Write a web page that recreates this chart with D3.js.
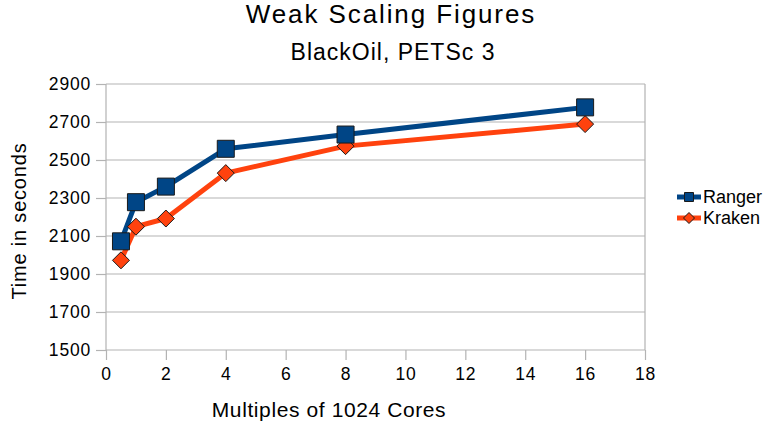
<!DOCTYPE html>
<html>
<head>
<meta charset="utf-8">
<script src="https://cdn.jsdelivr.net/npm/d3@7"></script>
<style>
  body { margin: 0; background: #fff; }
  text { font-family: "Liberation Sans", Arial, sans-serif; fill: #000; }
</style>
</head>
<body>
<div id="chart"></div>
<script>
// values
var cores = [0.5, 1, 2, 4, 8, 16];
var ranger = [2072, 2278, 2360, 2559, 2634, 2777];
var kraken = [1972, 2149, 2192, 2431, 2573, 2689];
var xTicks = [0, 2, 4, 6, 8, 10, 12, 14, 16, 18];
var yTicks = [1500, 1700, 1900, 2100, 2300, 2500, 2700, 2900];

var series = [
  {name: "Ranger", values: ranger, color: "#004586", symbol: "square"},
  {name: "Kraken", values: kraken, color: "#ff420e", symbol: "diamond"}
];

var W = 769, H = 427;
var margin = {top: 84, right: 124, bottom: 77, left: 106},
    width = W - margin.left - margin.right,
    height = H - margin.top - margin.bottom;

var x = d3.scaleLinear().domain([0, 18]).range([0, width]);
var y = d3.scaleLinear().domain([1500, 2900]).range([height, 0]);

var svg = d3.select("#chart").append("svg")
    .attr("width", W)
    .attr("height", H);

svg.append("text")
    .attr("x", 391).attr("y", 23)
    .attr("text-anchor", "middle")
    .style("font-size", "26px")
    .style("letter-spacing", "1.9px")
    .text("Weak Scaling Figures");

svg.append("text")
    .attr("x", 393).attr("y", 60)
    .attr("text-anchor", "middle")
    .style("font-size", "23px")
    .style("letter-spacing", "1px")
    .text("BlackOil, PETSc 3");

var g = svg.append("g")
    .attr("transform", "translate(" + margin.left + "," + margin.top + ")");

// grid
g.selectAll(".grid").data(yTicks).enter().append("line")
    .attr("x1", 0).attr("x2", width)
    .attr("y1", function(d) { return y(d); })
    .attr("y2", function(d) { return y(d); })
    .attr("stroke", "#b3b3b3").attr("stroke-width", 1.2);

g.append("line").attr("x1", 0).attr("x2", 0).attr("y1", 0).attr("y2", height)
    .attr("stroke", "#b3b3b3").attr("stroke-width", 1.2);
g.append("line").attr("x1", width).attr("x2", width).attr("y1", 0).attr("y2", height)
    .attr("stroke", "#b3b3b3").attr("stroke-width", 1.2);

var xAxis = d3.axisBottom(x).tickValues(xTicks).tickSize(10).tickPadding(8).tickFormat(d3.format("d"));
var yAxis = d3.axisLeft(y).tickValues(yTicks).tickSize(10).tickPadding(5).tickFormat(d3.format("d"));

var gx = g.append("g").attr("transform", "translate(0," + height + ")").call(xAxis);
var gy = g.append("g").call(yAxis);
[gx, gy].forEach(function(a) {
  a.select(".domain").remove();
  a.selectAll(".tick line").attr("stroke", "#b3b3b3").attr("stroke-width", 1.2);
  a.selectAll(".tick text").style("font-size", "17.5px").style("letter-spacing", "0.8px").attr("fill", "#000");
});

svg.append("text")
    .attr("transform", "translate(26," + 221 + ") rotate(-90)")
    .attr("text-anchor", "middle")
    .style("font-size", "20px")
    .style("letter-spacing", "0.8px")
    .text("Time in seconds");

svg.append("text")
    .attr("x", 329).attr("y", 417)
    .attr("text-anchor", "middle")
    .style("font-size", "21px")
    .style("letter-spacing", "0.6px")
    .text("Multiples of 1024 Cores");

var line = d3.line()
    .x(function(d, i) { return x(cores[i]); })
    .y(function(d) { return y(d); });

function symbolPath(s, r) {
  // r = half the marker's width
  if (s === "square") return "M" + -r + "," + -r + "H" + r + "V" + r + "H" + -r + "Z";
  return "M0," + -r + "L" + r + ",0L0," + r + "L" + -r + ",0Z";
}

// draw Kraken first so Ranger sits on top
series.slice().reverse().forEach(function(s) {
  g.append("path").datum(s.values)
      .attr("fill", "none")
      .attr("stroke", s.color)
      .attr("stroke-width", 5)
      .attr("stroke-linejoin", "round")
      .attr("d", line);
});
series.slice().reverse().forEach(function(s) {
  g.selectAll(".m-" + s.name).data(s.values).enter().append("path")
      .attr("transform", function(d, i) { return "translate(" + x(cores[i]) + "," + y(d) + ")"; })
      .attr("d", symbolPath(s.symbol, s.symbol === "square" ? 8.5 : 8.5))
      .attr("fill", s.color)
      .attr("stroke", "#1a1a1a")
      .attr("stroke-width", 1);
});

// legend
var leg = svg.append("g").attr("transform", "translate(677,197)");
series.forEach(function(s, i) {
  var row = leg.append("g").attr("transform", "translate(0," + (i * 21) + ")");
  row.append("line").attr("x1", 0).attr("x2", 24).attr("y1", 0).attr("y2", 0)
      .attr("stroke", s.color).attr("stroke-width", 5);
  row.append("path").attr("transform", "translate(12,0)")
      .attr("d", symbolPath(s.symbol, s.symbol === "square" ? 4.5 : 5.5))
      .attr("fill", s.color).attr("stroke", "#1a1a1a").attr("stroke-width", 1);
  row.append("text").attr("x", 26).attr("y", 6)
      .style("font-size", "18px")
      .text(s.name);
});
</script>
</body>
</html>
